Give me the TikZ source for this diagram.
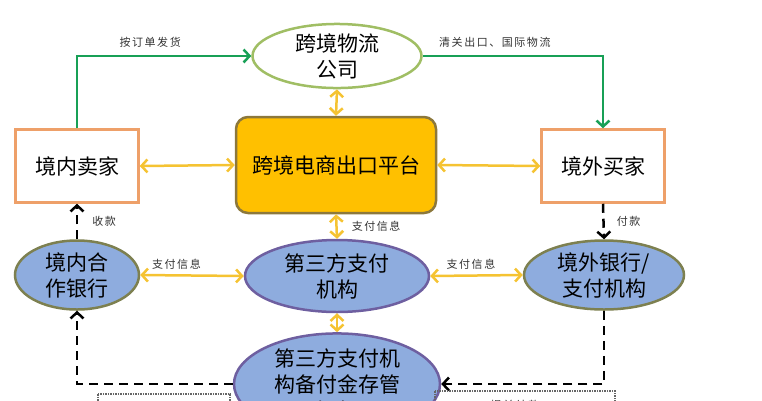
\documentclass[tikz,border=0pt]{standalone}
\usepackage{fontspec}
\setmainfont{Noto Sans CJK SC}
\newfontfamily\notefont[LetterSpace=14]{Noto Sans CJK SC}
\usepackage{tikz}
\usetikzlibrary{shapes.geometric,arrows.meta}
\tikzset{>={Straight Barb[length=6pt,width=13pt]}}
\usepackage{xcolor}
\definecolor{shipgreen}{RGB}{24,160,86}
\definecolor{logisrim}{RGB}{160,190,100}
\definecolor{partyrim}{RGB}{238,160,105}
\definecolor{platfill}{RGB}{255,192,0}
\definecolor{platrim}{RGB}{140,120,60}
\definecolor{infoyellow}{RGB}{245,195,50}
\definecolor{bankblue}{RGB}{142,172,222}
\definecolor{olivrim}{RGB}{125,128,80}
\definecolor{purplerim}{RGB}{110,95,160}
\newcommand{\bigfont}{\fontsize{21}{26}\selectfont}
\newcommand{\smallfont}{\notefont\fontsize{11}{13}\selectfont}
\tikzstyle{party}=[draw=partyrim,line width=2.5pt,fill=white,minimum width=123pt,minimum height=73pt,font=\bigfont]
\tikzstyle{bank}=[ellipse,fill=bankblue,line width=2.5pt,inner sep=0pt,align=center,font=\bigfont]
\tikzstyle{infoflow}=[<->,draw=infoyellow,line width=2.5pt]
\tikzstyle{shipflow}=[->,draw=shipgreen,line width=2.5pt]
\tikzstyle{moneyflow}=[->,draw=black,line width=2.5pt,dash pattern=on 9pt off 6pt]
\tikzstyle{note}=[font=\smallfont,text=black!80,inner sep=2pt]
\tikzstyle{dotbox}=[draw=black!60,line width=1.5pt,densely dotted]

\begin{document}
\begin{tikzpicture}[x=1pt,y=-1pt]
  \clip (0,0) rectangle (762,400);
  % upper row
  \node[ellipse,draw=logisrim,line width=2.5pt,fill=white,minimum width=169pt,minimum height=64pt,
    inner sep=0pt,align=center,font=\bigfont] (logis) at (337,56) {跨境物流\\公司};
  \node[party] (seller) at (77,166) {境内卖家};
  \node[party] (buyer) at (603,166) {境外买家};
  \node[draw=platrim,fill=platfill,line width=2.5pt,rounded corners=12pt,minimum width=200pt,
    minimum height=96pt,font=\bigfont] (platform) at (336,165) {跨境电商出口平台};
  % payment row
  \node[bank,draw=olivrim,minimum width=124pt,minimum height=69pt] (dombank) at (77,275) {境内合\\作银行};
  \node[bank,draw=purplerim,minimum width=184pt,minimum height=72pt] (thirdpay) at (337,276) {第三方支付\\机构};
  \node[bank,draw=olivrim,minimum width=160pt,minimum height=69pt] (forbank) at (604,275) {境外银行/\\支付机构};
  \node[bank,draw=purplerim,minimum width=206pt,minimum height=82pt] (custody) at (337,384) {第三方支付机\\构备付金存管\\银行};
  % goods
  \draw[shipflow] (seller.north) |- (logis.west) node[note,pos=.71,above=5pt] {按订单发货};
  \draw[shipflow] (logis.east) -| (buyer.north) node[note,pos=.2,above=5pt] {清关出口、国际物流};
  % information
  \draw[infoflow] (seller.east) -- (platform.west);
  \draw[infoflow] (platform.east) -- (buyer.west);
  \draw[infoflow] (logis.south) -- (platform.north);
  \draw[infoflow] (platform.south) -- (thirdpay.north) node[note,midway,right=12pt] {支付信息};
  \draw[infoflow] (dombank.east) -- (thirdpay.west) node[note,pos=.35,above=3pt] {支付信息};
  \draw[infoflow] (thirdpay.east) -- (forbank.west) node[note,pos=.44,above=3pt] {支付信息};
  \draw[infoflow] (thirdpay.south) -- (custody.north);
  % money
  \draw[moneyflow] (dombank.north) -- (seller.south) node[note,midway,right=12pt] {收款};
  \draw[moneyflow] (buyer.south) -- (forbank.north) node[note,midway,right=10pt] {付款};
  \draw[moneyflow] (forbank.south) |- (custody.east);
  \draw[moneyflow] (custody.west) -| (dombank.south);
  % lower notes, cut off
  \draw[dotbox] (98,394) rectangle (230,430);
  \draw[dotbox] (435,391) rectangle (615,430);
  \node[note] (advance) at (515,405) {提前结款};
\end{tikzpicture}
\end{document}
